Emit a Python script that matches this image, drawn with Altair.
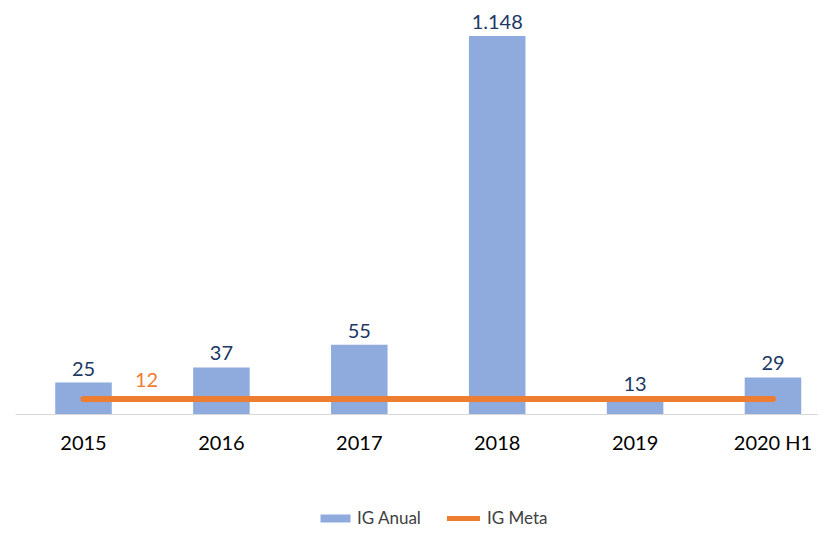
import altair as alt
import pandas as pd

years = ["2015", "2016", "2017", "2018", "2019", "2020 H1"]
ig_anual = [25, 37, 55, 1148, 13, 29]
ig_meta = [12, 12, 12, 12, 12, 12]

BLUE = "#8FAADC"
ORANGE = "#ED7D31"
NAVY = "#203864"
FONT = "Lato"

df = pd.DataFrame({
    "year": years,
    "anual": ig_anual,
    "meta": ig_meta,
    "anual_label": [f"{v:,}".replace(",", ".") for v in ig_anual],
    "meta_label": [str(v) for v in ig_meta],
    "s_anual": ["IG Anual"] * len(years),
    "s_meta": ["IG Meta"] * len(years),
})
df["first"] = [i == 0 for i in range(len(years))]

xenc = alt.X("year:N", sort=years, title=None,
             scale=alt.Scale(paddingInner=0.59, paddingOuter=0.2067, align=0.706, round=False),
             axis=alt.Axis(labelAngle=0, ticks=False, domainColor="#D9D9D9",
                           domainWidth=1, labelFontSize=20, labelFont=FONT,
                           labelColor="#000000", labelPadding=19, grid=False))
yscale = alt.Scale(domain=[0, 300], clamp=True, nice=False)

LEG_Y = 474
leg_common = dict(title=None, orient="none", direction="horizontal", padding=0,
                  labelFont=FONT, labelFontSize=17, labelColor="#404040",
                  symbolSize=100)

base = alt.Chart(df)

bars = base.mark_bar(color=BLUE).encode(
    x=xenc,
    y=alt.Y("anual:Q", scale=yscale, axis=None),
    fill=alt.Fill("s_anual:N", scale=alt.Scale(domain=["IG Anual"], range=[BLUE]),
                  legend=alt.Legend(legendX=312, legendY=LEG_Y, labelOffset=13,
                                    symbolType="M-3,-0.8H3V0.8H-3Z",
                                    symbolStrokeWidth=0, **leg_common)),
)

bar_text = base.mark_text(baseline="alphabetic", dy=-7, font=FONT, fontSize=20,
                          color=NAVY).encode(
    x=alt.X("year:N", sort=years),
    y=alt.Y("anual:Q", scale=yscale),
    text="anual_label:N",
)

line = base.mark_line(color=ORANGE, strokeWidth=6, strokeCap="round").encode(
    x=alt.X("year:N", sort=years),
    y=alt.Y("meta:Q", scale=yscale),
    stroke=alt.Stroke("s_meta:N", scale=alt.Scale(domain=["IG Meta"], range=[ORANGE]),
                      legend=alt.Legend(legendX=440, legendY=LEG_Y, labelOffset=15,
                                        symbolType="M-3.3,0H3.3",
                                        symbolStrokeWidth=5, **leg_common)),
)

meta_text = base.transform_filter("datum.first").mark_text(
    baseline="alphabetic", dx=63, dy=-12, font=FONT, fontSize=20, color=ORANGE
).encode(
    x=alt.X("year:N", sort=years),
    y=alt.Y("meta:Q", scale=yscale),
    text="meta_label:N",
)

chart = alt.layer(bars, line, bar_text, meta_text).properties(
    width=803, height=378, background="white",
    padding={"left": 7, "top": 5, "right": 0, "bottom": 0},
).configure_view(strokeWidth=0, stroke=None)

chart.save("out.html", embed_options={"renderer": "svg", "actions": False})
